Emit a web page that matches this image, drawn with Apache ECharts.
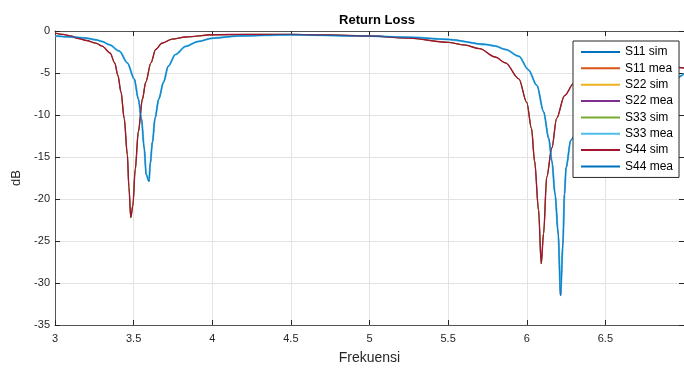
<!DOCTYPE html>
<html>
<head>
<meta charset="utf-8">
<script src="https://cdn.jsdelivr.net/npm/echarts@6/dist/echarts.min.js"></script>
<style>
    html, body { margin: 0; padding: 0; background: #fff; }
    #rl { width: 684px; height: 370px; }
</style>
</head>
<body>
<div id="rl"></div>
<script>
// data (frequency, dB)
var simFreq = [3.0, 3.05, 3.1, 3.15, 3.2, 3.26, 3.3, 3.35, 3.38, 3.4, 3.42, 3.44, 3.46, 3.47, 3.482, 3.495, 3.51, 3.53, 3.556, 3.577, 3.61, 3.64, 3.68, 3.745, 3.83, 4.0, 4.25, 4.5, 4.75, 5.0, 5.25, 5.5, 5.6, 5.7, 5.8, 5.865, 5.95, 6.0, 6.03, 6.05, 6.075, 6.092, 6.107, 6.127, 6.16, 6.19, 6.24, 6.3, 6.4, 6.5, 6.6, 6.7, 6.8, 6.9, 7.0];
var simDb = [-0.25, -0.4, -0.6, -0.9, -1.13, -1.44, -1.8, -2.6, -3.8, -5.3, -7.3, -10.4, -14.7, -18.6, -22.2, -20.8, -16.5, -12, -8.1, -6.1, -3.8, -2.2, -1.45, -0.97, -0.72, -0.45, -0.4, -0.4, -0.48, -0.6, -0.85, -1.35, -1.65, -2.1, -3.1, -3.8, -5.7, -8.5, -11.6, -15.5, -21.3, -27.7, -24.1, -17.4, -13.9, -10.4, -7.7, -6.2, -5.2, -4.7, -4.4, -4.25, -4.2, -4.25, -4.4];
var meaFreq = [3.0, 3.1, 3.2, 3.26, 3.3, 3.346, 3.41, 3.46, 3.504, 3.53, 3.55, 3.567, 3.58, 3.598, 3.605, 3.62, 3.636, 3.66, 3.69, 3.72, 3.766, 3.83, 3.91, 4.0, 4.165, 4.5, 5.0, 5.25, 5.5, 5.74, 5.8, 5.865, 5.95, 6.01, 6.065, 6.107, 6.14, 6.16, 6.18, 6.2, 6.215, 6.23, 6.24, 6.25, 6.28, 6.35, 6.45, 6.55, 6.65, 6.75, 6.85, 6.92, 7.0];
var meaDb = [-0.6, -0.7, -0.85, -1.05, -1.25, -1.64, -2.4, -3.8, -5.7, -8.1, -10.5, -13.9, -17.1, -17.9, -15.9, -13.2, -10.4, -8.1, -6.1, -4.2, -2.8, -1.84, -1.25, -0.86, -0.59, -0.45, -0.6, -0.75, -1.0, -1.6, -1.8, -2.2, -3.0, -4.6, -6.5, -9.6, -12.8, -15.5, -19.4, -24.1, -31.5, -25.3, -19.4, -16.3, -13, -10.5, -8.8, -7.8, -7.2, -6.8, -6.4, -5.9, -5.1];
var names = ['S11 sim', 'S11 mea', 'S22 sim', 'S22 mea', 'S33 sim', 'S33 mea', 'S44 sim', 'S44 mea'];
var colors = ['#0072BD', '#D95319', '#EDB120', '#7E2F8E', '#77AC30', '#4DBEEE', '#A2142F', '#0072BD'];
var xTicks = { min: 3, max: 7, interval: 0.5 };
var yTicks = { min: -35, max: 0, interval: 5 };

function pairs(fs, vs) {
    var out = [];
    for (var i = 0; i < fs.length; i++) {
        out.push([fs[i], vs[i]]);
    }
    return out;
}
var simPts = pairs(simFreq, simDb);
var meaPts = pairs(meaFreq, meaDb);

var axisColor = '#262626';
var lineColor = '#555555';
var gridColor = '#e3e3e3';
var font = 'Liberation Sans, Arial, sans-serif';

// same curves drawn on top of each other, last one wins (as in the figure)
var widths = [0.8, 0.8, 0.8, 0.8, 0.8, 2, 1.4, 0.9];
var series = [];
for (var k = 0; k < names.length; k++) {
    var isMea = (k % 2 == 1);
    series.push({
        name: names[k],
        type: 'line',
        data: isMea ? meaPts : simPts,
        symbol: 'none',
        smooth: 0.3,
        smoothMonotone: 'x',
        clip: true,
        color: colors[k],
        lineStyle: { color: colors[k], width: widths[k] }
    });
}

var rlChart = echarts.init(document.getElementById('rl'));
var rlOpt = {
    animation: false,
    title: {
        text: 'Return Loss',
        left: 372,
        top: 9,
        textAlign: 'center',
        textStyle: { fontFamily: font, fontSize: 13, fontWeight: 'bold', color: '#000' }
    },
    legend: {
        orient: 'vertical',
        left: 573,
        top: 41,
        data: names,
        icon: 'rect',
        backgroundColor: '#fff',
        borderColor: '#262626',
        borderWidth: 1,
        padding: [4, 6, 4, 8],
        itemWidth: 39,
        itemHeight: 2,
        itemGap: 2.35,
        textStyle: { fontFamily: font, fontSize: 12, lineHeight: 14, color: '#000' }
    },
    grid: {
        left: 55,
        top: 31,
        width: 635,
        height: 299
    },
    xAxis: [
        {
            type: 'value',
            min: xTicks.min,
            max: xTicks.max,
            interval: xTicks.interval,
            name: 'Frekuensi',
            nameLocation: 'middle',
            nameGap: 26,
            nameTextStyle: { fontFamily: font, fontSize: 14, color: axisColor },
            axisLine: { onZero: false, lineStyle: { color: lineColor, width: 1 } },
            axisTick: { inside: true, length: 5, lineStyle: { color: axisColor } },
            axisLabel: { fontFamily: font, fontSize: 11, color: axisColor, margin: 8, showMaxLabel: false },
            splitLine: { show: true, lineStyle: { color: gridColor } }
        },
        {
            type: 'value',
            position: 'top',
            min: xTicks.min,
            max: xTicks.max,
            interval: xTicks.interval,
            axisLine: { onZero: false, lineStyle: { color: lineColor, width: 1 } },
            axisTick: { inside: true, length: 5, lineStyle: { color: axisColor } },
            axisLabel: { show: false },
            splitLine: { show: false }
        }
    ],
    yAxis: [
        {
            type: 'value',
            min: yTicks.min,
            max: yTicks.max,
            interval: yTicks.interval,
            name: 'dB',
            nameLocation: 'middle',
            nameGap: 30,
            nameTextStyle: { fontFamily: font, fontSize: 13, color: axisColor },
            axisLine: { show: true, onZero: false, lineStyle: { color: lineColor, width: 1 } },
            axisTick: { show: true, inside: true, length: 5, lineStyle: { color: axisColor } },
            axisLabel: { fontFamily: font, fontSize: 11, color: axisColor, margin: 5 },
            splitLine: { show: true, lineStyle: { color: gridColor } }
        },
        {
            type: 'value',
            position: 'right',
            min: yTicks.min,
            max: yTicks.max,
            interval: yTicks.interval,
            axisLine: { show: true, onZero: false, lineStyle: { color: lineColor, width: 1 } },
            axisTick: { show: true, inside: true, length: 5, lineStyle: { color: axisColor } },
            axisLabel: { show: false },
            splitLine: { show: false }
        }
    ],
    series: series
};
rlChart.setOption(rlOpt);
</script>
</body>
</html>
